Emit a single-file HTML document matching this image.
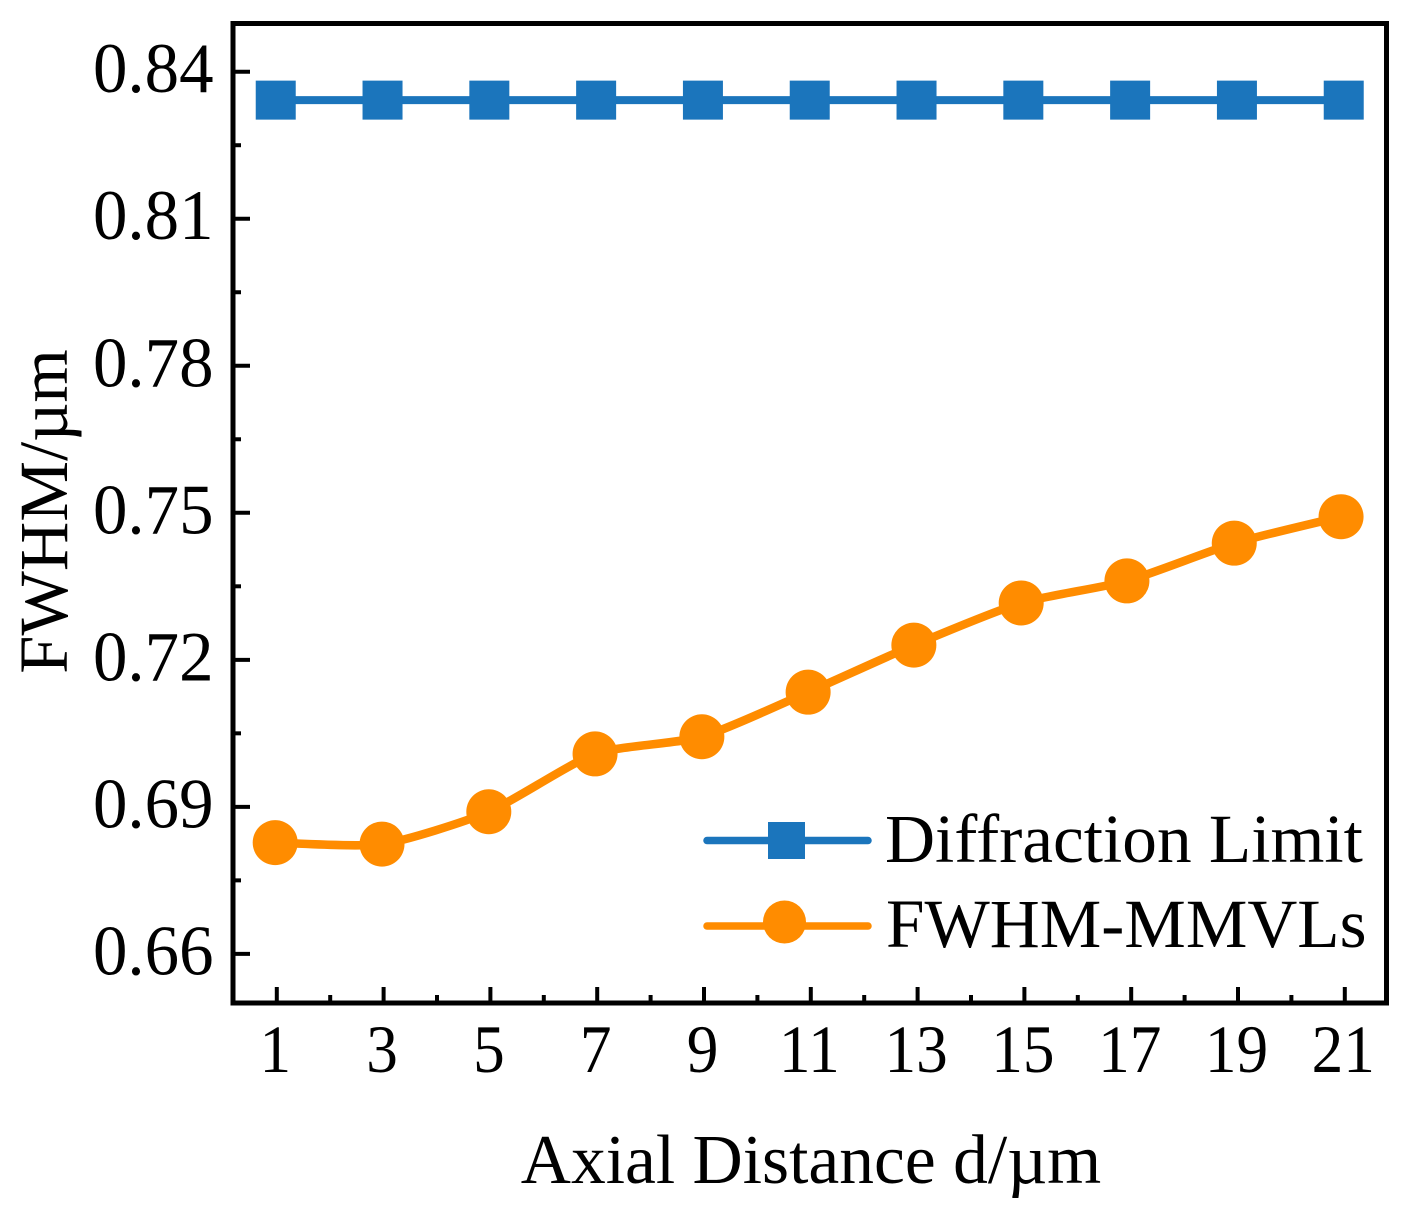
<!DOCTYPE html>
<html lang="en">
<head>
<meta charset="utf-8">
<title>FWHM vs Axial Distance</title>
<style>
html,body{margin:0;padding:0;background:#fff;width:1404px;height:1211px;overflow:hidden}
svg{display:block}
text{font-family:"Liberation Serif",serif;fill:#000}
</style>
</head>
<body>
<svg id="chart" xmlns="http://www.w3.org/2000/svg" width="1404" height="1211" viewBox="0 0 1404 1211">
  <rect x="0" y="0" width="1404" height="1211" fill="#fff"/>
  <g id="ticks"></g>
  <g id="series"></g>
  <rect x="233" y="23.5" width="1153.5" height="979.5" fill="none" stroke="#000" stroke-width="5"/>
  <text x="811" y="1183" font-size="69.5" text-anchor="middle">Axial Distance d/µm</text>
  <text transform="translate(67,511.5) rotate(-90)" font-size="68.4" text-anchor="middle">FWHM/µm</text>
  <g>
    <g>
      <line x1="707" y1="840.5" x2="868" y2="840.5" stroke="#1b75bc" stroke-width="7.5" stroke-linecap="round"/>
      <rect x="768" y="822" width="37" height="37" fill="#1b75bc"/>
      <text x="885" y="862" font-size="69.3">Diffraction Limit</text>
    </g>
    <g>
      <line x1="707" y1="926" x2="868" y2="926" stroke="#ff8c00" stroke-width="7.5" stroke-linecap="round"/>
      <circle cx="784.5" cy="922" r="21.5" fill="#ff8c00"/>
      <text x="886" y="947" font-size="69.2">FWHM-MMVLs</text>
    </g>
  </g>
</svg>
<script>
const xTickValues = [1, 3, 5, 7, 9, 11, 13, 15, 17, 19, 21];
const xTickLabels = ["1", "3", "5", "7", "9", "11", "13", "15", "17", "19", "21"];
const xMinorValues = [2, 4, 6, 8, 10, 12, 14, 16, 18, 20];
const yTickValues = [0.66, 0.69, 0.72, 0.75, 0.78, 0.81, 0.84];
const yTickLabels = ["0.66", "0.69", "0.72", "0.75", "0.78", "0.81", "0.84"];
const yMinorValues = [0.675, 0.705, 0.735, 0.765, 0.795, 0.825];
const diffractionX = [0.98, 2.98, 4.98, 6.98, 8.98, 10.98, 12.98, 14.98, 16.98, 18.98, 20.98];
const diffractionY = [0.8342, 0.8342, 0.8342, 0.8342, 0.8342, 0.8342, 0.8342, 0.8342, 0.8342, 0.8342, 0.8342];
const fwhmX = [0.97, 2.97, 4.97, 6.96, 8.96, 10.95, 12.93, 14.94, 16.92, 18.93, 20.93];
const fwhmY = [0.6827, 0.6824, 0.6890, 0.7008, 0.7043, 0.7134, 0.7230, 0.7316, 0.7361, 0.7438, 0.7492];

const NS = 'http://www.w3.org/2000/svg';
const xScale = v => 276.8 + (v - 1) * 53.4;
const yScale = v => 71.7 + (0.84 - v) * 4901;
const ticksLayer = document.getElementById('ticks');
const seriesLayer = document.getElementById('series');

function make(tag, parent, props) {
  const el = document.createElementNS(NS, tag);
  for (const k in props) el.setAttribute(k, props[k]);
  parent.appendChild(el);
  return el;
}

xTickValues.forEach((v, i) => {
  const t = make('line', ticksLayer, {x1: xScale(v), x2: xScale(v), y1: 987, y2: 1003, stroke: '#000', 'stroke-width': 4});
  
  
  const l = make('text', ticksLayer, {transform: 'translate(' + (xScale(v) - 1.5) + ',1072) scale(0.93,1)', 'font-size': 68, 'text-anchor': 'middle'});
  l.textContent = xTickLabels[i];
  
  
});
xMinorValues.forEach(v => {
  const t = make('line', ticksLayer, {x1: xScale(v), x2: xScale(v), y1: 995, y2: 1003, stroke: '#000', 'stroke-width': 4});
  
  
});
yTickValues.forEach((v, i) => {
  const t = make('line', ticksLayer, {x1: 233, x2: 250, y1: yScale(v), y2: yScale(v), stroke: '#000', 'stroke-width': 4});
  
  
  const l = make('text', ticksLayer, {transform: 'translate(213.5,' + (yScale(v) + 20.5) + ') scale(0.97,1)', 'font-size': 71, 'text-anchor': 'end'});
  l.textContent = yTickLabels[i];
  
  
});
yMinorValues.forEach(v => {
  const t = make('line', ticksLayer, {x1: 233, x2: 241, y1: yScale(v), y2: yScale(v), stroke: '#000', 'stroke-width': 4});
  
  
});

function smoothPath(xs, ys) {
  const p = xs.map((x, i) => [xScale(x), yScale(ys[i])]);
  const k = 9;
  let d = 'M' + p[0][0] + ' ' + p[0][1];
  for (let i = 0; i < p.length - 1; i++) {
    const a = p[Math.max(i - 1, 0)], b = p[i], c = p[i + 1], e = p[Math.min(i + 2, p.length - 1)];
    d += ' C' + (b[0] + (c[0] - a[0]) / k) + ' ' + (b[1] + (c[1] - a[1]) / k) + ' ' +
         (c[0] - (e[0] - b[0]) / k) + ' ' + (c[1] - (e[1] - b[1]) / k) + ' ' + c[0] + ' ' + c[1];
  }
  return d;
}

const blueLine = make('path', seriesLayer, {d: smoothPath(diffractionX, diffractionY), fill: 'none', stroke: '#1b75bc', 'stroke-width': 8});


diffractionX.forEach((x, i) => {
  const m = make('rect', seriesLayer, {x: xScale(x) - 20, y: yScale(diffractionY[i]) - 19.5, width: 40, height: 39, fill: '#1b75bc'});
  
  
});

const orangeLine = make('path', seriesLayer, {d: smoothPath(fwhmX, fwhmY), fill: 'none', stroke: '#ff8c00', 'stroke-width': 8.5});


fwhmX.forEach((x, i) => {
  const m = make('circle', seriesLayer, {cx: xScale(x), cy: yScale(fwhmY[i]), r: 22.5, fill: '#ff8c00'});
  
  
});
</script>
</body>
</html>
